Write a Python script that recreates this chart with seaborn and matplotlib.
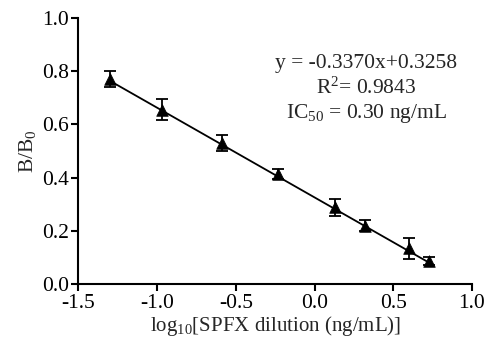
import numpy as np
import matplotlib
matplotlib.use("Agg")
import matplotlib.pyplot as plt
import seaborn as sns

# datos
log_dil = [-1.30, -0.97, -0.59, -0.23, 0.13, 0.32, 0.60, 0.73]
b_b0 = [0.770, 0.655, 0.530, 0.412, 0.288, 0.220, 0.134, 0.086]
err = [0.031, 0.039, 0.030, 0.019, 0.033, 0.020, 0.038, 0.016]

# recta de ajuste
slope = -0.3370
intercept = 0.3258
fit_text = ["y = -0.3370x+0.3258", "R$^2$= 0.9843", "IC$_{50}$ = 0.30 ng/mL"]

xticks = [-1.5, -1.0, -0.5, 0.0, 0.5, 1.0]
yticks = [0.0, 0.2, 0.4, 0.6, 0.8, 1.0]

sns.set_style("ticks")
plt.rcParams['font.family'] = ['Liberation Serif', 'DejaVu Serif']
plt.rcParams['mathtext.fontset'] = 'custom'
plt.rcParams['mathtext.rm'] = 'Liberation Serif'
plt.rcParams['mathtext.it'] = 'Liberation Serif'

fig = plt.figure(figsize=(4.87, 3.46), dpi=100)
ax = fig.add_axes([0.161, 0.179, 0.808, 0.769])

x_fit = np.array([log_dil[0], log_dil[-1]])
sns.lineplot(x=x_fit, y=slope * x_fit + intercept, color='black', linewidth=1.3, ax=ax)
ax.errorbar(log_dil, b_b0, yerr=err, fmt='none', ecolor='black', elinewidth=1.3,
            capsize=4.5, capthick=1.3)
sns.scatterplot(x=log_dil, y=b_b0, marker='^', s=70, color='black', edgecolor='black',
                linewidth=0.5, ax=ax, zorder=5)

ax.set_xlim(-1.5, 1.0)
ax.set_ylim(0.0, 1.0)
ax.set_xticks(xticks)
ax.set_yticks(yticks)
ax.set_xticklabels([f"{t:.1f}" for t in xticks])
ax.set_yticklabels([f"{t:.1f}" for t in yticks])
ax.tick_params(axis='both', labelsize=15.5, width=1.5, length=5, pad=2,
               color='black', labelcolor='black')
for s in ['left', 'bottom']:
    ax.spines[s].set_linewidth(1.5)
    ax.spines[s].set_color('black')
sns.despine(ax=ax)

ax.set_xlabel("log$_{10}$[SPFX dilution (ng/mL)]", fontsize=15, labelpad=1)
ax.set_ylabel("B/B$_0$", fontsize=15.5, labelpad=3)

for i, t in enumerate(fit_text):
    ax.text(0.33, 0.83 - i * 0.095, t, ha='center', va='center', fontsize=15.5)

plt.savefig('out.png', dpi=100)
plt.close()
